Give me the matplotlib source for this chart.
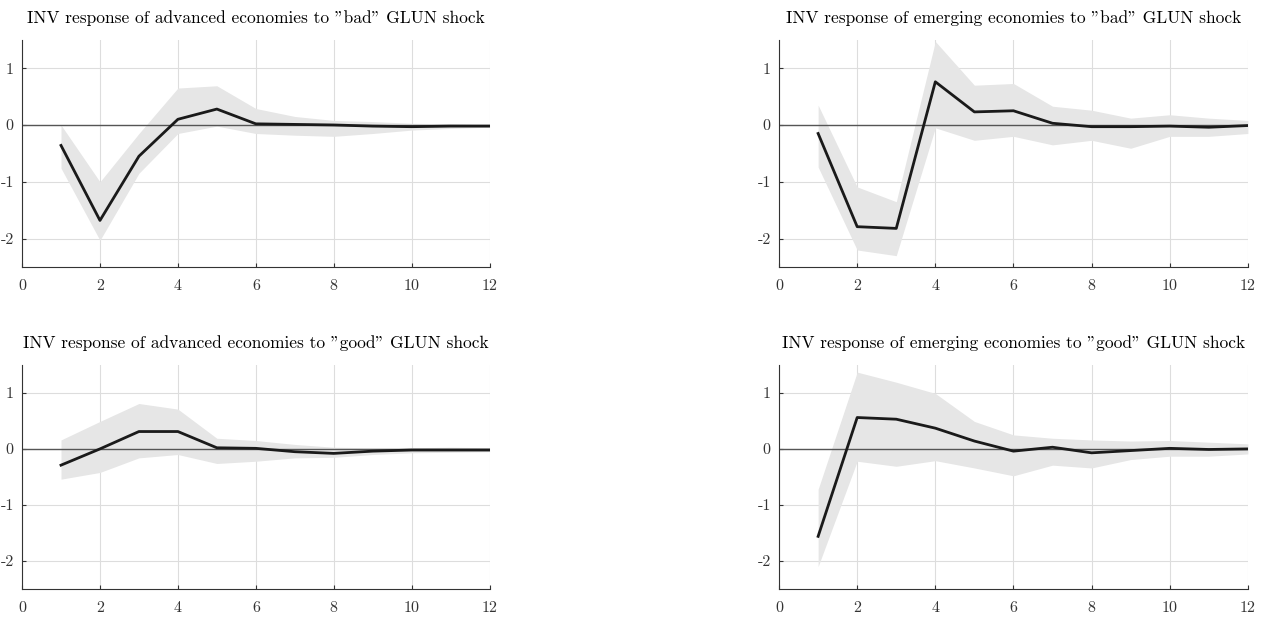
import matplotlib
matplotlib.use("Agg")
import matplotlib.pyplot as plt
import numpy as np

plt.rcParams["font.family"] = ["cmr10", "DejaVu Serif"]
plt.rcParams["axes.unicode_minus"] = False
plt.rcParams["mathtext.fontset"] = "cm"

horizon = np.arange(1, 13)

adv_bad_irf = [-0.36, -1.68, -0.55, 0.10, 0.28, 0.02, 0.01, 0.00, -0.02, -0.03, -0.02, -0.02]
adv_bad_hi = [0.00, -1.00, -0.15, 0.65, 0.69, 0.29, 0.15, 0.08, 0.06, 0.03, 0.02, 0.00]
adv_bad_lo = [-0.76, -2.03, -0.85, -0.15, -0.02, -0.15, -0.18, -0.20, -0.15, -0.09, -0.06, -0.04]

emg_bad_irf = [-0.15, -1.79, -1.82, 0.76, 0.23, 0.25, 0.03, -0.03, -0.03, -0.02, -0.04, -0.01]
emg_bad_hi = [0.35, -1.09, -1.35, 1.47, 0.70, 0.73, 0.33, 0.26, 0.12, 0.18, 0.12, 0.08]
emg_bad_lo = [-0.74, -2.20, -2.30, -0.05, -0.27, -0.20, -0.35, -0.27, -0.41, -0.20, -0.20, -0.15]

adv_good_irf = [-0.29, 0.00, 0.31, 0.31, 0.02, 0.01, -0.05, -0.08, -0.04, -0.02, -0.02, -0.02]
adv_good_hi = [0.16, 0.49, 0.81, 0.71, 0.19, 0.15, 0.08, 0.03, 0.02, 0.02, 0.03, 0.02]
adv_good_lo = [-0.54, -0.42, -0.16, -0.10, -0.26, -0.22, -0.16, -0.15, -0.10, -0.07, -0.06, -0.05]

emg_good_irf = [-1.56, 0.56, 0.53, 0.37, 0.14, -0.04, 0.03, -0.07, -0.03, 0.01, -0.01, 0.00]
emg_good_hi = [-0.72, 1.37, 1.19, 0.99, 0.49, 0.25, 0.19, 0.16, 0.14, 0.15, 0.12, 0.09]
emg_good_lo = [-2.10, -0.22, -0.31, -0.21, -0.34, -0.48, -0.29, -0.34, -0.19, -0.13, -0.13, -0.09]

titles = [
    'INV response of advanced economies to "bad" GLUN shock',
    'INV response of emerging economies to "bad" GLUN shock',
    'INV response of advanced economies to "good" GLUN shock',
    'INV response of emerging economies to "good" GLUN shock',
]
panels = [
    (adv_bad_irf, adv_bad_lo, adv_bad_hi),
    (emg_bad_irf, emg_bad_lo, emg_bad_hi),
    (adv_good_irf, adv_good_lo, adv_good_hi),
    (emg_good_irf, emg_good_lo, emg_good_hi),
]
x_ticks = [0, 2, 4, 6, 8, 10, 12]
y_ticks = [-2, -1, 0, 1]

fig = plt.figure(figsize=(12.74, 6.21), dpi=100)
rects = [
    (0.0173, 0.570, 0.367, 0.366),
    (0.6115, 0.570, 0.368, 0.366),
    (0.0173, 0.0515, 0.367, 0.361),
    (0.6115, 0.0515, 0.368, 0.361),
]

for rect, title, (irf, lo, hi) in zip(rects, titles, panels):
    ax = fig.add_axes(rect)
    ax.fill_between(horizon, lo, hi, color="#e6e6e6", linewidth=0)
    ax.axhline(0, color="#555555", linewidth=1.0)
    ax.plot(horizon, irf, color="#1a1a1a", linewidth=2.0)
    ax.set_xlim(0, 12)
    ax.set_ylim(-2.5, 1.5)
    ax.set_xticks(x_ticks)
    ax.set_yticks(y_ticks)
    ax.grid(color="#dddddd", linewidth=0.8)
    ax.set_axisbelow(True)
    ax.spines["top"].set_visible(False)
    ax.spines["right"].set_visible(False)
    ax.spines["left"].set_color("#333333")
    ax.spines["bottom"].set_color("#333333")
    ax.tick_params(direction="in", length=3, labelsize=11.5, colors="#333333")
    ax.tick_params(axis="x", pad=9)
    ax.tick_params(axis="y", pad=6)
    ax.set_title(title, fontsize=12.5, pad=12)

fig.savefig("out.png", dpi=100)
